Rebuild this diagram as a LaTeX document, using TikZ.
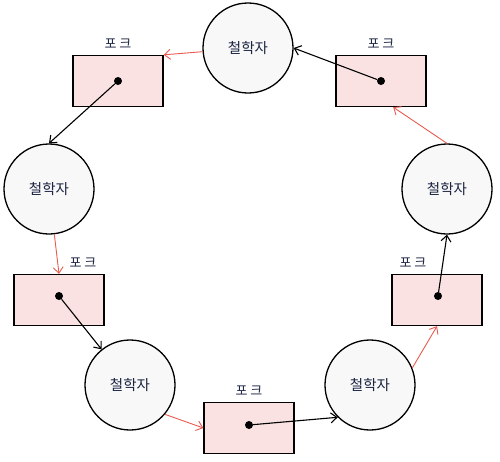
\documentclass[tikz,border=0pt]{standalone}
\usepackage{fontspec}
\newfontfamily\krfont{Noto Sans CJK KR}
\usetikzlibrary{arrows.meta,positioning}
\definecolor{forkpink}{RGB}{250,226,226}
\definecolor{philgray}{RGB}{248,248,248}
\definecolor{passred}{RGB}{232,92,80}
\definecolor{inkblue}{RGB}{28,36,66}

\begin{document}
\begin{tikzpicture}[x=1pt,y=-1pt,node distance=3pt,
    phil/.style={draw,line width=1.3pt,circle,fill=philgray,minimum size=90pt,inner sep=0pt,font=\krfont\fontsize{14.5}{16}\selectfont,text=inkblue},
    fork/.style={draw,line width=1.3pt,fill=forkpink,minimum width=90pt,minimum height=51pt,inner sep=0pt},
    hold/.style={circle,fill=black,minimum size=8pt,inner sep=0pt},
    lbl/.style={font=\krfont\fontsize{13}{15}\selectfont,text=inkblue},
    pass/.style={-{Straight Barb[length=6pt,width=10pt]},line width=0.9pt,passred},
    grab/.style={-{Straight Barb[length=6pt,width=10pt]},line width=1.1pt,black}]
    \useasboundingbox (0,0) rectangle (500,461);
    % philosophers
    \node[phil] (p1) at (248,48) {철학자};
    \node[phil] (p2) at (447,189) {철학자};
    \node[phil] (p3) at (49,189) {철학자};
    \node[phil] (p4) at (130,385) {철학자};
    \node[phil] (p5) at (370,385) {철학자};
    % forks
    \node[fork] (f1) at (118,81) {};
    \node[fork] (f2) at (381,81) {};
    \node[fork] (f3) at (59,300) {};
    \node[fork] (f4) at (249,428) {};
    \node[fork] (f5) at (437,300) {};
    \node[hold] (d1) at (118,81) {};
    \node[hold] (d2) at (381,81) {};
    \node[hold] (d3) at (59,296) {};
    \node[hold] (d4) at (249,425) {};
    \node[hold] (d5) at (438,296) {};
    \node[lbl,above=of f1] (l1) {포 크};
    \node[lbl,above=of f2] (l2) {포 크};
    \node[lbl,above=of f3,xshift=24pt] (l3) {포 크};
    \node[lbl,above=of f4] (l4) {포 크};
    \node[lbl,above=of f5,xshift=-24pt] (l5) {포 크};
    % fork passes
    \draw[pass] (p1) -- (f1.north east);
    \draw[pass] (p3) -- (f3.north);
    \draw[pass] (p4.-40) -- (f4.west);
    \draw[pass] (p5.22) -- (f5.south);
    \draw[pass] (p2.north) -- (f2.-65);
    % forks held
    \draw[grab] (d1) -- (p3.north);
    \draw[grab] (d3) -- (p4);
    \draw[grab] (d4) -- (p5.225);
    \draw[grab] (d5) -- (p2.south);
    \draw[grab] (d2) -- (p1.east);
  \end{tikzpicture}
\end{document}
